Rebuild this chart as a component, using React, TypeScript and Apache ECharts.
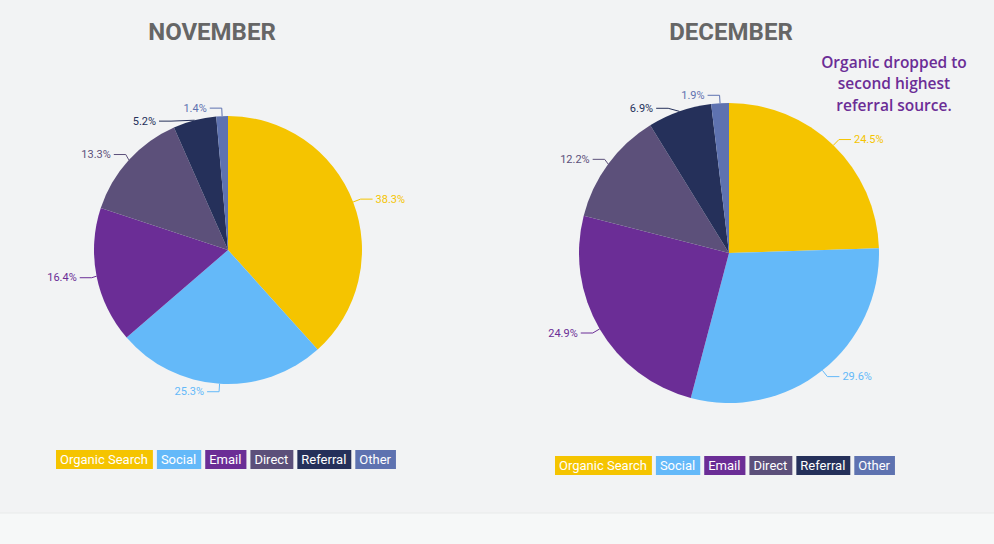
import React, { useEffect, useRef } from "react";
import * as echarts from "echarts";

const categories = ["Organic Search", "Social", "Email", "Direct", "Referral", "Other"];
const novemberValues = [38.3, 25.3, 16.4, 13.3, 5.2, 1.4];
const decemberValues = [24.5, 29.6, 24.9, 12.2, 6.9, 1.9];
const sliceColors = ["#F5C400", "#64B9F9", "#6B2D96", "#5C507A", "#25305A", "#5E72B0"];
const titles = ["NOVEMBER", "DECEMBER"];
const noteLines = ["Organic dropped to", "second highest", "referral source."];

const FONT = "Roboto, sans-serif";

function buildPie(name: string, values: number[], center: [number, number], radius: number) {
  return {
    type: "pie",
    name,
    center,
    radius,
    startAngle: 90,
    clockwise: true,
    avoidLabelOverlap: true,
    data: categories.map((c, i) => ({
      name: c,
      value: values[i],
      itemStyle: { color: sliceColors[i] },
      label: { color: sliceColors[i] },
      labelLine: { lineStyle: { color: sliceColors[i] } },
    })),
    label: {
      show: true,
      position: "outside",
      formatter: "{c}%",
      fontFamily: FONT,
      fontSize: 11,
      distanceToLabelLine: 3,
    },
    labelLine: { show: true, length: 8, length2: 12, smooth: false, lineStyle: { width: 1 } },
    emphasis: { disabled: true },
  };
}

function buildLegend(left: number, top: number) {
  const rich: Record<string, any> = {};
  categories.forEach((_, i) => {
    rich["k" + i] = {
      backgroundColor: sliceColors[i],
      color: "#ffffff",
      padding: [3, 5, 3, 4],
      fontSize: 13,
      lineHeight: 13,
      fontFamily: FONT,
    };
  });
  return {
    left,
    top,
    orient: "horizontal",
    itemGap: -1,
    itemWidth: 0,
    itemHeight: 0,
    icon: "rect",
    data: categories,
    selectedMode: false,
    formatter: (n: string) => `{k${categories.indexOf(n)}|${n}}`,
    textStyle: { rich, fontFamily: FONT, fontSize: 13 },
  };
}

export default function App() {
  const ref = useRef<HTMLDivElement>(null);
  useEffect(() => {
    if (!ref.current) return;
    const chart = echarts.init(ref.current, undefined, { renderer: "svg" });
    chart.setOption({
      animation: false,
      backgroundColor: "#F2F3F4",
      legend: [buildLegend(46, 445), buildLegend(545, 451)],
      graphic: [
        {
          type: "rect",
          shape: { x: 0, y: 513, width: 994, height: 31 },
          style: { fill: "#F6F8F8" },
          z: -10,
        },
        {
          type: "line",
          shape: { x1: 0, y1: 513, x2: 994, y2: 513 },
          style: { stroke: "#E8EAEA", lineWidth: 1 },
          z: -9,
        },
        {
          type: "text",
          x: 212,
          y: 20,
          style: {
            text: titles[0],
            fill: "#666666",
            font: `bold 24px Roboto`,
            textAlign: "center",
            textVerticalAlign: "top",
          },
        },
        {
          type: "text",
          x: 731,
          y: 20,
          style: {
            text: titles[1],
            fill: "#666666",
            font: `bold 24px Roboto`,
            textAlign: "center",
            textVerticalAlign: "top",
          },
        },
        {
          type: "text",
          x: 894,
          y: 51,
          style: {
            text: noteLines.join("\n"),
            fill: "#6B2D96",
            font: `600 15.5px 'Open Sans', sans-serif`,
            lineHeight: 21.5,
            textAlign: "center",
            textVerticalAlign: "top",
          },
        },
      ],
      series: [
        buildPie("November", novemberValues, [228, 250], 134),
        buildPie("December", decemberValues, [729, 253], 150),
      ],
    });
    return () => chart.dispose();
  }, []);
  return (
    <div
      ref={ref}
      style={{ position: "absolute", left: 0, top: 0, width: 994, height: 544 }}
    />
  );
}
